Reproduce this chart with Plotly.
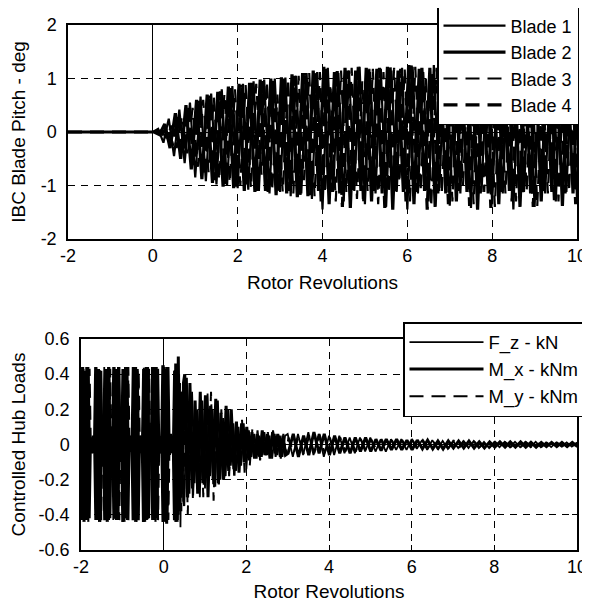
import numpy as np
import plotly.graph_objects as go

# ---------------- data ----------------
# Top panel: IBC blade pitch (deg), sampled every 1/8 rev from rev 0; flat zero before
PITCH_DT = 0.125
blade_names = ["Blade 1", "Blade 2", "Blade 3", "Blade 4"]
blade1 = [0, 0.06, -0.2, 0.25, -0.45, 0.42, -0.58, 0.55, -0.85, 0.66, -0.92, 0.72, -0.98, 0.8, -1.0, 0.86,
          -1.05, 0.9, -1.08, 0.95, -1.1, 0.98, -1.15, 1.0, -1.12, 1.02, -1.2, 1.05, -1.15, 1.1, -1.25, 1.12,
          -1.45, 1.2, -1.12, 1.1, -1.3, 1.15, -1.1, 1.22, -1.35, 1.12, -1.15, 1.18, -1.4, 1.15, -1.12, 1.2,
          -1.45, 1.22, -1.15, 1.12, -1.3, 1.25, -1.1, 1.18, -1.38, 1.2, -1.15, 1.25, -1.42, 1.15, -1.12, 1.22,
          -1.35, 1.18, -1.15, 1.25, -1.45, 1.2, -1.12, 1.15, -1.4, 1.22, -1.15, 1.18, -1.3, 1.2, -1.12, 1.15, -1.25]
blade2 = [0, -0.05, 0.15, -0.3, 0.35, -0.5, 0.5, -0.7, 0.6, -0.88, 0.7, -0.95, 0.75, -1.02, 0.85, -1.05,
          0.9, -1.1, 0.92, -1.12, 0.98, -1.1, 1.0, -1.18, 1.02, -1.15, 1.08, -1.22, 1.1, -1.2, 1.15, -1.1,
          1.22, -1.35, 1.12, -1.15, 1.2, -1.42, 1.15, -1.1, 1.2, -1.3, 1.18, -1.15, 1.22, -1.45, 1.15, -1.12,
          1.25, -1.35, 1.18, -1.1, 1.2, -1.4, 1.22, -1.15, 1.18, -1.3, 1.25, -1.12, 1.2, -1.45, 1.15, -1.15,
          1.22, -1.35, 1.2, -1.1, 1.18, -1.4, 1.22, -1.15, 1.2, -1.3, 1.15, -1.12, 1.2, -1.38, 1.18, -1.15, 1.2]
blade3 = [0, 0.03, -0.1, 0.12, -0.3, 0.3, -0.4, 0.45, -0.65, 0.6, -0.75, 0.65, -0.9, 0.72, -0.95, 0.8,
          -1.0, 0.88, -1.05, 0.9, -0.8, 0.95, -1.1, 0.7, -1.12, 1.0, -1.15, 1.05, -0.9, 1.1, -1.2, 1.12,
          -1.15, 0.9, -1.3, 1.15, -1.12, 1.2, -1.25, 0.95, -1.1, 1.18, -1.35, 1.12, -1.15, 1.2, -0.95, 1.18,
          -1.3, 1.22, -1.12, 1.0, -1.4, 1.2, -1.15, 1.15, -1.3, 1.22, -1.0, 1.2, -1.35, 1.18, -1.12, 1.25,
          -1.4, 1.0, -1.15, 1.2, -1.3, 1.15, -1.12, 1.22, -1.4, 1.1, -1.15, 1.2, -1.3, 1.15, -1.12, 1.18, -1.25]
blade4 = [0, -0.04, 0.1, -0.25, 0.3, -0.42, 0.48, -0.62, 0.58, -0.8, 0.68, -0.9, 0.76, -0.98, 0.82, -1.02,
          0.88, -1.05, 0.92, -1.1, 0.95, -1.12, 0.98, -1.15, 1.0, -1.1, 1.05, -1.2, 1.1, -1.18, 1.12, -1.3,
          1.18, -1.12, 1.2, -1.4, 1.15, -1.12, 1.22, -1.35, 1.18, -1.1, 1.2, -1.42, 1.22, -1.15, 1.18, -1.3,
          1.25, -1.12, 1.2, -1.45, 1.15, -1.15, 1.22, -1.35, 1.2, -1.1, 1.25, -1.38, 1.18, -1.15, 1.2, -1.42,
          1.22, -1.12, 1.18, -1.3, 1.2, -1.15, 1.25, -1.4, 1.15, -1.12, 1.2, -1.3, 1.18, -1.15, 1.2, -1.35, 1.15]

# Bottom panel: controlled hub loads, three sampling segments
SEG_A = (-2.0, 1 / 32)   # start, step  (rev -2 .. 0.5)
SEG_B = (0.5, 1 / 16)    # rev 0.5 .. 3
SEG_C = (3.0, 1 / 8)     # rev 3 .. 10
load_names = ["F_z - kN", "M_x - kNm", "M_y - kNm"]

fz_a = [0.44, -0.42, 0.43, -0.43, 0.44, -0.42, 0.43, -0.05, 0.04, -0.03, 0.05,
        -0.43, 0.44, -0.42, 0.43, -0.44, 0.04, -0.05,
        0.44, -0.43, 0.43, -0.42, 0.44, -0.04, 0.05,
        -0.43, 0.44, -0.43, 0.43, -0.42, 0.05, -0.04,
        0.43, -0.43, 0.44, -0.42, 0.43, -0.05, 0.04, -0.03,
        0.44, -0.43, 0.43, -0.44, 0.43, -0.04, 0.05, -0.05,
        0.43, -0.42, 0.44, -0.43, 0.44, -0.05, 0.04,
        -0.43, 0.44, -0.42, 0.43, -0.43, 0.05, -0.04, 0.05,
        -0.44, 0.45, -0.43, 0.44, -0.42, 0.05, -0.06, 0.05, -0.05,
        0.42, -0.44, 0.45, -0.43, 0.4, -0.47, 0.3, -0.32]
fz_b = [-0.35, 0.38, -0.28, 0.3, -0.22, 0.2, -0.3, 0.25, -0.25, 0.29, -0.18, 0.2, -0.24, 0.25, -0.2, 0.15,
        -0.18, 0.2, -0.12, 0.12, -0.15, 0.1, -0.12, 0.12, -0.14, 0.08, -0.07, 0.06, -0.08, 0.05, -0.07, 0.07,
        -0.06, 0.05, -0.08, 0.06, -0.06, 0.05, -0.07, 0.05]
fz_c = [0.06, -0.07, 0.06, -0.06, 0.07, -0.06, 0.06, -0.07, 0.05, -0.06, 0.05, -0.05, 0.04, -0.05, 0.04, -0.04,
        0.04, -0.04, 0.03, -0.04, 0.03, -0.03, 0.03, -0.03, 0.03, -0.025, 0.025, -0.03, 0.025, -0.025, 0.02, -0.025,
        0.02, -0.02, 0.02, -0.02, 0.02, -0.02, 0.015, -0.02, 0.015, -0.015, 0.015, -0.015, 0.015, -0.015, 0.015, -0.015,
        0.015, -0.015, 0.012, -0.015, 0.012, -0.012, 0.012, -0.012, 0.012]

mx_a = [-0.43, 0.44, -0.44, 0.42, -0.43, 0.44, -0.42, 0.04, -0.05, 0.05, -0.04,
        0.44, -0.43, 0.43, -0.44, 0.42, -0.05, 0.05,
        -0.43, 0.43, -0.44, 0.44, -0.42, 0.04, -0.05,
        0.44, -0.42, 0.43, -0.43, 0.44, -0.04, 0.05,
        -0.44, 0.43, -0.42, 0.44, -0.43, 0.05, -0.04, 0.05,
        -0.43, 0.44, -0.44, 0.42, -0.43, 0.05, -0.04, 0.04,
        -0.44, 0.43, -0.43, 0.44, -0.42, 0.05, -0.05,
        0.44, -0.43, 0.44, -0.42, 0.43, -0.05, 0.04, -0.05,
        0.45, -0.44, 0.43, -0.45, 0.44, -0.05, 0.06, -0.04, 0.05,
        -0.43, 0.46, -0.44, 0.5, -0.38, 0.3, -0.28, 0.35]
mx_b = [0.4, -0.3, 0.35, -0.25, 0.25, -0.28, 0.3, -0.22, 0.28, -0.3, 0.22, -0.2, 0.26, -0.22, 0.18, -0.2,
        0.22, -0.15, 0.2, -0.14, 0.13, -0.16, 0.12, -0.1, 0.1, -0.09, 0.07, -0.08, 0.06, -0.07, 0.08, -0.06,
        0.06, -0.08, 0.07, -0.05, 0.06, -0.07, 0.05, -0.06]
mx_c = [-0.05, 0.06, -0.07, 0.05, -0.06, 0.07, -0.05, 0.06, -0.06, 0.05, -0.05, 0.04, -0.05, 0.04, -0.04, 0.04,
        -0.04, 0.03, -0.035, 0.03, -0.03, 0.03, -0.03, 0.025, -0.03, 0.025, -0.025, 0.025, -0.025, 0.02, -0.025, 0.02,
        -0.02, 0.02, -0.02, 0.02, -0.02, 0.015, -0.02, 0.015, -0.015, 0.015, -0.015, 0.015, -0.015, 0.015, -0.015, 0.012,
        -0.015, 0.012, -0.012, 0.012, -0.012, 0.012, -0.012, 0.012, -0.012]

my_a = [0.42, -0.44, 0.43, -0.43, 0.42, -0.44, 0.43, -0.04, 0.05, -0.05, 0.04,
        -0.42, 0.43, -0.44, 0.43, -0.43, 0.05, -0.04,
        0.43, -0.44, 0.42, -0.43, 0.43, -0.05, 0.04,
        -0.44, 0.43, -0.42, 0.44, -0.43, 0.04, -0.05,
        0.42, -0.44, 0.43, -0.43, 0.44, -0.04, 0.05, -0.05,
        0.43, -0.42, 0.44, -0.43, 0.42, -0.05, 0.05, -0.04,
        0.44, -0.44, 0.42, -0.43, 0.43, -0.04, 0.05,
        -0.42, 0.43, -0.44, 0.44, -0.43, 0.04, -0.05, 0.04,
        -0.43, 0.44, -0.44, 0.43, -0.43, 0.06, -0.05, 0.05, -0.06,
        0.43, -0.45, 0.44, -0.4, 0.35, -0.38, 0.25, -0.35]
my_b = [0.25, -0.4, 0.3, -0.32, 0.2, -0.25, 0.22, -0.3, 0.25, -0.2, 0.3, -0.32, 0.18, -0.25, 0.2, -0.22,
        0.14, -0.18, 0.16, -0.2, 0.1, -0.12, 0.14, -0.16, 0.08, -0.12, 0.09, -0.07, 0.08, -0.09, 0.06, -0.08,
        0.07, -0.06, 0.08, -0.07, 0.05, -0.08, 0.06, -0.05]
my_c = [0.04, -0.05, 0.05, -0.06, 0.05, -0.05, 0.06, -0.05, 0.04, -0.05, 0.04, -0.04, 0.035, -0.04, 0.03, -0.035,
        0.03, -0.03, 0.03, -0.03, 0.025, -0.03, 0.025, -0.025, 0.025, -0.02, 0.025, -0.02, 0.02, -0.025, 0.02, -0.02,
        0.02, -0.02, 0.015, -0.02, 0.015, -0.015, 0.015, -0.015, 0.015, -0.015, 0.012, -0.015, 0.012, -0.012, 0.012, -0.012,
        0.012, -0.012, 0.01, -0.012, 0.01, -0.01, 0.01, -0.01, 0.01]

x_ticks = [-2, 0, 2, 4, 6, 8, 10]
x_ticktext = ["-2", "0", "2", "4", "6", "8", "10"]
pitch_ticks = [-2, -1, 0, 1, 2]
pitch_ticktext = ["-2", "-1", "0", "1", "2"]
load_ticks = [-0.6, -0.4, -0.2, 0, 0.2, 0.4, 0.6]
load_ticktext = ["-0.6", "-0.4", "-0.2", "0", "0.2", "0.4", "0.6"]

# ---------------- figure ----------------
FONT = "Liberation Sans, Arial, Helvetica, sans-serif"
fig = go.Figure()

blade_styles = [dict(width=2.2, dash="solid"), dict(width=3.2, dash="solid"),
                dict(width=2.2, dash="14px,8px"), dict(width=3.2, dash="14px,8px")]
for i, (name, vals) in enumerate(zip(blade_names, [blade1, blade2, blade3, blade4])):
    t = np.arange(len(vals)) * PITCH_DT + i * PITCH_DT / 4
    x = np.concatenate([[-2.0], t])
    y = np.concatenate([[0.0], vals])
    fig.add_trace(go.Scatter(x=x, y=y, mode="lines", name=name,
                             line=dict(color="black", **blade_styles[i]),
                             xaxis="x", yaxis="y", legend="legend"))

load_styles = [dict(width=1.8, dash="solid"), dict(width=3.0, dash="solid"), dict(width=2.0, dash="14px,8px")]
for i, (name, segs) in enumerate(zip(load_names, [(fz_a, fz_b, fz_c), (mx_a, mx_b, mx_c), (my_a, my_b, my_c)])):
    off = i / 96
    xs, ys = [], []
    for (start, step), vals in zip([SEG_A, SEG_B, SEG_C], segs):
        xs.append(start + np.arange(len(vals)) * step + off)
        ys.append(np.array(vals, dtype=float))
    fig.add_trace(go.Scatter(x=np.concatenate(xs), y=np.concatenate(ys), mode="lines", name=name,
                             line=dict(color="black", **load_styles[i]),
                             xaxis="x2", yaxis="y2", legend="legend2"))

axis_common = dict(showline=True, linecolor="black", linewidth=1.5, mirror="allticks",
                   ticks="inside", ticklen=5, tickwidth=1, tickcolor="black",
                   showgrid=True, gridcolor="black", gridwidth=1.2, griddash="7px,6px",
                   zeroline=True, zerolinecolor="black", zerolinewidth=1,
                   tickfont=dict(family=FONT, size=18, color="black"))
title_font = dict(family=FONT, size=19, color="black")

# the page body adds an 8 px margin, so the figure is laid out 8 px up/left
PAGE_OFF = 8
W, H = 590 - PAGE_OFF, 604 - PAGE_OFF
L, T = 68 - PAGE_OFF, 25 - PAGE_OFF
R = W - (577 - PAGE_OFF)
B = H - (550 - PAGE_OFF)
pw, ph = W - L - R, H - T - B


def fx(px):
    return (px - PAGE_OFF - L) / pw


def fy(py):
    return (H - B - (py - PAGE_OFF)) / ph


fig.update_layout(
    width=W, height=H, margin=dict(l=L, r=R, t=T, b=B, autoexpand=False),
    paper_bgcolor="white", plot_bgcolor="white",
    font=dict(family=FONT, color="black"),
    xaxis=dict(domain=[0, 1], range=[-2, 10], tickvals=x_ticks, ticktext=x_ticktext, anchor="y",
               ticklabelstandoff=0,
               title=dict(text="Rotor Revolutions", font=title_font, standoff=10), **axis_common),
    yaxis=dict(domain=[fy(239), 1], range=[-2, 2], tickvals=pitch_ticks, ticktext=pitch_ticktext,
               anchor="x", ticklabelstandoff=6,
               title=dict(text="IBC Blade Pitch - deg", font=title_font, standoff=10), **axis_common),
    xaxis2=dict(domain=[fx(81), 1], range=[-2, 10], tickvals=x_ticks, ticktext=x_ticktext, anchor="y2",
                ticklabelstandoff=0,
                title=dict(text="Rotor Revolutions", font=title_font, standoff=8), **axis_common),
    yaxis2=dict(domain=[0, fy(339)], range=[-0.6, 0.6], tickvals=load_ticks, ticktext=load_ticktext,
                anchor="x2", ticklabelstandoff=6,
                title=dict(text="Controlled Hub Loads", font=title_font, standoff=10), **axis_common),
    legend=dict(x=fx(437), xanchor="left", y=fy(6), yanchor="top",
                bgcolor="white", bordercolor="black", borderwidth=1.5,
                font=dict(family=FONT, size=18, color="black"), itemwidth=62, tracegroupgap=0),
    legend2=dict(x=fx(403), xanchor="left", y=fy(322), yanchor="top",
                 bgcolor="white", bordercolor="black", borderwidth=1.5,
                 font=dict(family=FONT, size=18.5, color="black"), itemwidth=74, tracegroupgap=0),
    showlegend=True,
)

fig.write_html("out.html")
